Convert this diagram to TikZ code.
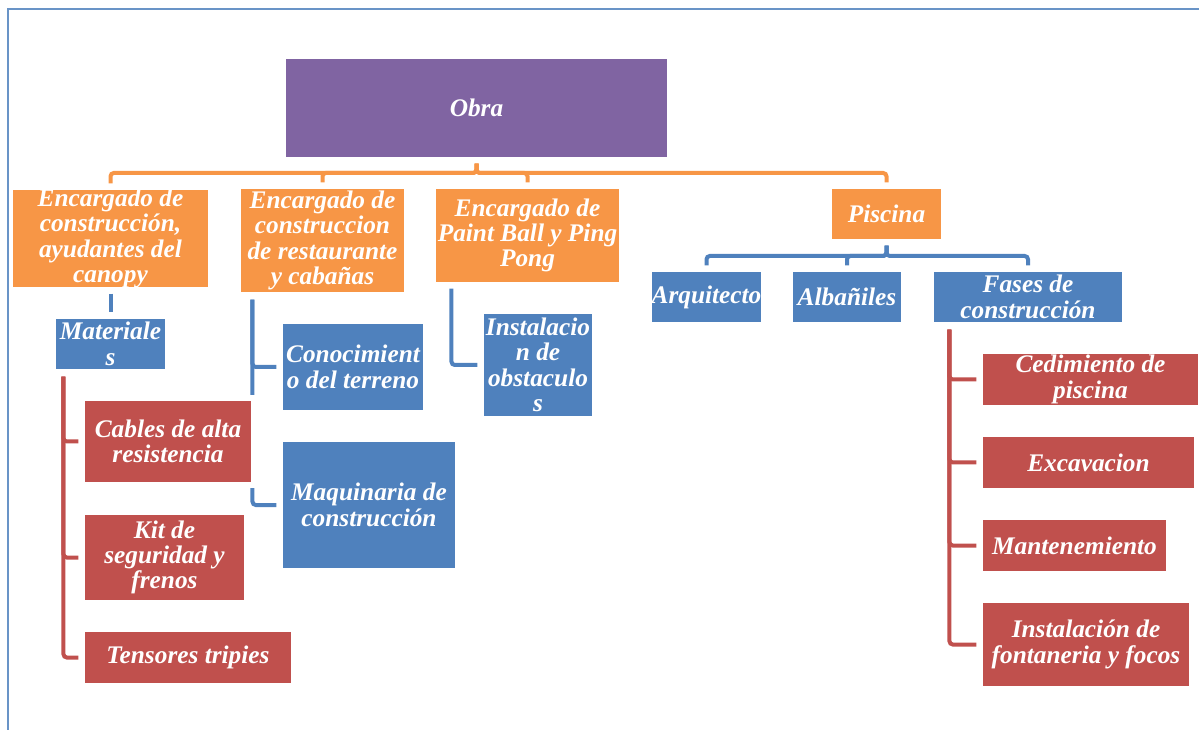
\documentclass[tikz,border=0pt]{standalone}
\usepackage{fontspec}
\setmainfont{Liberation Serif}
\usetikzlibrary{positioning,calc,backgrounds}
\definecolor{obrapurple}{RGB}{128,100,162}
\definecolor{leadorange}{RGB}{247,150,70}
\definecolor{taskblue}{RGB}{79,129,189}
\definecolor{itemred}{RGB}{192,80,77}

\begin{document}
\begin{tikzpicture}[
    x=0.75pt, y=-0.75pt,
    boxsize/.style 2 args={minimum width=#1*0.75pt, minimum height=#2*0.75pt},
    box/.style={rectangle, draw=white, line width=0.8pt, text=white, align=center, inner sep=0pt, font=\fontsize{19}{19}\selectfont\bfseries\itshape},
    topbox/.style={box, fill=obrapurple},
    leadbox/.style={box, fill=leadorange},
    taskbox/.style={box, fill=taskblue},
    itembox/.style={box, fill=itemred},
    halo/.style={preaction={draw=white, line width=7.5pt}},
    link/.style={line width=3pt, rounded corners=2.5pt, shorten <=3.75pt, shorten >=3.75pt},
    orgline/.style={link, leadorange},
    blueline/.style={link, taskblue},
    redline/.style={link, itemred},
    framebox/.style={taskblue!85, line width=1.4pt}
]
\useasboundingbox (0,0) rectangle (1199,730);
\draw[framebox] (8,730) -- (8,9) -- (1199,9);

\node[topbox, boxsize={383}{100}] (obra) at (476.5,108) {Obra};

% first level
\node[leadbox, boxsize={197}{99}] (encCanopy) at (110.5,238.5) {Encargado de\\construcción,\\ayudantes del\\canopy};
\node[leadbox, boxsize={165}{105}] (encRest) at (322.5,240.5) {Encargado de\\construccion\\de restaurante\\y cabañas};
\node[leadbox, boxsize={185}{95}] (encPaint) at (527.5,235.5) {Encargado de\\Paint Ball y Ping\\Pong};
\node[leadbox, boxsize={111}{52}] (piscina) at (886.5,214) {Piscina};

% piscina
\node[taskbox, boxsize={111}{52}] (arq) at (706.5,297) {Arquitecto};
\node[taskbox, boxsize={110}{52}] (alb) at (847,297) {Albañiles};
\node[taskbox, boxsize={190}{52}] (fases) at (1028,297) {Fases de\\construcción};
\node[itembox, boxsize={217}{53}] (cedim) at (1090.5,379.5) {Cedimiento de\\piscina};
\node[itembox, boxsize={213}{53}] (excav) at (1088.5,462.5) {Excavacion};
\node[itembox, boxsize={185}{53}] (mant) at (1074.5,545.5) {Mantenemiento};
\node[itembox, boxsize={208}{85}] (fonta) at (1086,644.5) {Instalación de\\fontaneria y focos};

% canopy
\node[taskbox, boxsize={111}{52}] (mat) at (110.5,344) {Materiale\\s};
\node[itembox, halo, boxsize={168}{83}] (cables) at (168,441.5) {Cables de alta\\resistencia};
\node[itembox, boxsize={161}{87}] (kit) at (164.5,557.5) {Kit de\\seguridad y\\frenos};
\node[itembox, boxsize={208}{53}] (tensores) at (188,657.5) {Tensores tripies};

% restaurante y paint ball
\node[taskbox, boxsize={142}{88}] (conoc) at (353,367) {Conocimient\\o del terreno};
\node[taskbox, boxsize={174}{128}] (maq) at (369,505) {Maquinaria de\\construcción};
\node[taskbox, boxsize={110}{104}] (obst) at (538,365) {Instalacio\\n de\\obstaculo\\s};

\begin{scope}[on background layer]
\coordinate (leadbus) at (0,173);
\coordinate (poolbus) at (0,256);
\foreach \n in {encCanopy,encRest,encPaint,piscina}
    \draw[orgline] (obra.south) -- (obra.south |- leadbus) -| (\n.north);
\foreach \n in {arq,alb,fases}
    \draw[blueline] (piscina.south) -- (piscina.south |- poolbus) -| (\n.north);
\draw[blueline] (encCanopy.south) -- (mat.north);
\foreach \n in {conoc,maq}
    \draw[blueline, shorten <=0pt] (encRest.south west) ++(13,6) |- (\n.west);
\draw[blueline, shorten <=0pt] (encPaint.south west) ++(17,5) |- (obst.west);
\foreach \n in {cables,kit,tensores}
    \draw[redline, shorten <=0pt] (mat.south west) ++(9,6) |- (\n.west);
\foreach \n in {cedim,excav,mant,fonta}
    \draw[redline, shorten <=0pt] (fases.south west) ++(17,6) |- (\n.west);
\end{scope}
\end{tikzpicture}
\end{document}
